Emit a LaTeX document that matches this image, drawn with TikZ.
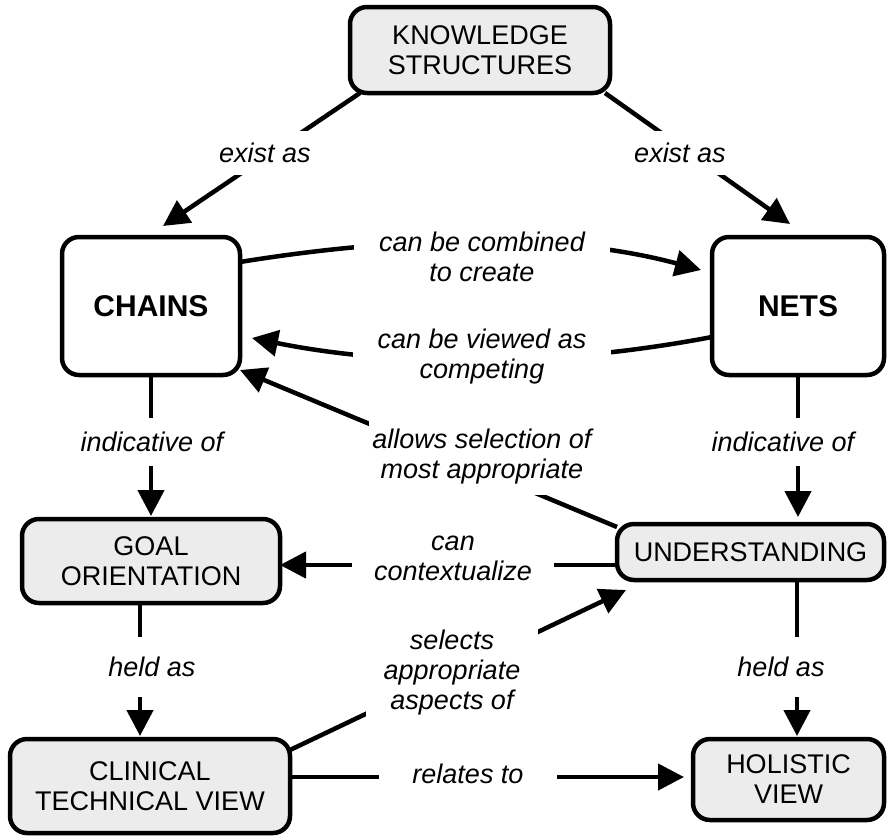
\documentclass[tikz,border=0pt]{standalone}
\usepackage{fontspec}
\setmainfont{Liberation Sans}
\usetikzlibrary{arrows.meta}
\definecolor{boxgray}{RGB}{236,236,236}
\begin{document}
\begin{tikzpicture}[x=1pt,y=-1pt,
  box/.style={draw=black, line width=4.5pt, rounded corners=17pt, align=center, inner sep=0pt, outer sep=0pt, font=\fontsize{27}{30}\selectfont},
  graybox/.style={box, fill=boxgray},
  whitebox/.style={box, fill=white, font=\fontsize{30}{34}\selectfont\bfseries},
  conn/.style={line width=4.5pt},
  arr/.style={conn, -{Triangle[length=26pt,width=26pt]}},
  lbl/.style={fill=white, align=center, font=\fontsize{27}{30}\selectfont\itshape, inner xsep=8pt, inner ysep=8pt},
]
\useasboundingbox (0,0) rectangle (888,838);

% boxes
\node[graybox, minimum width=260, minimum height=86] (ks) at (480,50) {KNOWLEDGE\\STRUCTURES};
\node[whitebox, minimum width=178, minimum height=138] (chains) at (151,306) {CHAINS};
\node[whitebox, minimum width=172, minimum height=138] (nets) at (798,306) {NETS};
\node[graybox, minimum width=258, minimum height=84] (goal) at (151,561) {GOAL\\ORIENTATION};
\node[graybox, minimum width=267, minimum height=56] (und) at (750.5,552) {UNDERSTANDING};
\node[graybox, minimum width=280, minimum height=94] (clin) at (150,786) {CLINICAL\\TECHNICAL VIEW};
\node[graybox, minimum width=191, minimum height=81] (hol) at (788.5,779.5) {HOLISTIC\\VIEW};

% connectors
\draw[arr] ([xshift=10pt]ks.south west) -- ([xshift=12pt,yshift=11pt]chains.north);
\draw[arr] ([xshift=-5pt]ks.south east) -- ([xshift=-8pt,yshift=13pt]nets.north);
\draw[arr] ([yshift=44pt]chains.east) .. controls (400,236) and (560,232) .. ([xshift=-11pt,yshift=36pt]nets.west);
\draw[arr] ([yshift=-31pt]nets.west) .. controls (560,366) and (400,368) .. ([xshift=12pt,yshift=-32pt]chains.east);
\draw[arr] ([yshift=-3pt]und.north west) -- ([yshift=5pt]chains.south east);
\draw[arr, shorten >=3pt] (chains.south) -- (goal.north);
\draw[arr, shorten >=7pt] (nets.south) -- (nets.south |- und.north);
\draw[arr] ([yshift=-13pt]und.west) -- ([yshift=-13pt]und.west -| goal.east);
\draw[arr] ([yshift=-11pt]clin.north east) -- ([xshift=9pt,yshift=-10pt]und.south west);
\draw[arr, shorten >=3pt] ([xshift=-11pt]goal.south) -- ([xshift=-11pt]goal.south |- clin.north);
\draw[arr, shorten >=3pt] ([xshift=46.5pt]und.south) -- ([xshift=46.5pt]und.south |- hol.north);
\draw[arr, shorten >=9pt] ([yshift=9pt]clin.east) -- ([yshift=9pt]clin.east -| hol.west);

% labels
\node[lbl, inner xsep=4pt, inner ysep=12pt] (l1) at (265,153) {exist as};
\node[lbl, inner xsep=4pt, inner ysep=12pt] (l2) at (680,153) {exist as};
\node[lbl, inner xsep=25pt, inner ysep=4pt] (l3) at (482,257) {can be combined\\to create};
\node[lbl, inner xsep=25pt, inner ysep=4pt] (l4) at (482,357) {can be viewed as\\competing};
\node[lbl, inner xsep=3pt, inner ysep=10pt] (l5) at (482,457) {allows selection of\\most appropriate};
\node[lbl, inner ysep=14pt] (l6) at (152,442) {indicative of};
\node[lbl, inner ysep=14pt] (l7) at (783,442) {indicative of};
\node[lbl, inner xsep=22pt, inner ysep=4pt] (l8) at (453,558) {can\\contextualize};
\node[lbl, inner ysep=20pt] (l9) at (152,667) {held as};
\node[lbl, inner ysep=20pt] (l10) at (781,667) {held as};
\node[lbl, inner xsep=18pt, inner ysep=4pt] (l11) at (452,673) {selects\\appropriate\\aspects of};
\node[lbl, inner xsep=33pt, inner ysep=6pt] (l12) at (468,774) {relates to};
\end{tikzpicture}
\end{document}
